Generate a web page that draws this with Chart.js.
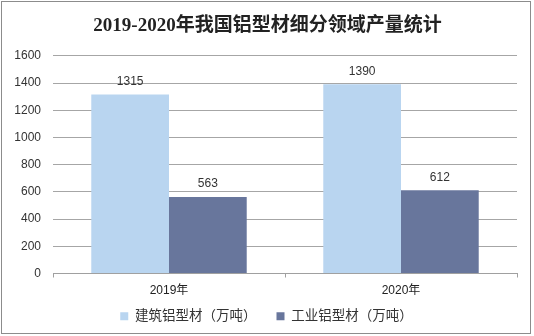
<!DOCTYPE html>
<html>
<head>
<meta charset="utf-8">
<script src="https://cdn.jsdelivr.net/npm/chart.js@4"></script>
<style>
  html, body { margin: 0; padding: 0; background: #fff; }
  #wrap { width: 534px; height: 336px; position: relative; }
</style>
</head>
<body>
<div id="wrap"><canvas id="c"></canvas></div>
<script>
const categories = ['2019年', '2020年'];
const buildingAl = [1315, 1390];
const industrialAl = [563, 612];
const seriesNames = ['建筑铝型材（万吨）', '工业铝型材（万吨）'];

const sansFont = '"Liberation Sans", Arial, "Noto Sans CJK SC", sans-serif';

// value labels above each bar
const barLabels = {
    id: 'barLabels',
    afterDatasetsDraw(chart) {
        const ctx = chart.ctx;
        ctx.save();
        ctx.font = '12px ' + sansFont;
        ctx.fillStyle = '#333';
        ctx.textAlign = 'center';
        ctx.textBaseline = 'bottom';
        chart.data.datasets.forEach((ds, i) => {
            chart.getDatasetMeta(i).data.forEach((bar, j) => {
                ctx.fillText(ds.data[j], bar.x, bar.y - 7);
            });
        });
        ctx.restore();
    }
};

// gray frame round the whole picture
const frame = {
    id: 'frame',
    afterDraw(chart) {
        const ctx = chart.ctx;
        ctx.save();
        ctx.strokeStyle = '#8c8c8c';
        ctx.lineWidth = 1;
        ctx.strokeRect(1.5, 1.5, 529, 332);
        ctx.restore();
    }
};

// x axis is squeezed to sit close to the legend; let its labels spill below.
// title and legend are centred on the whole picture, not on the padded box
const tweakLayout = {
    id: 'tweakLayout',
    afterLayout(chart) {
        chart.scales.x.bottom = chart.scales.x.top + 30;
        chart.legend.left += 8;
        chart.legend.right += 8;
        chart.titleBlock.left += 9;
        chart.titleBlock.right += 9;
    }
};

new Chart(document.getElementById('c'), {
    type: 'bar',
    data: {
        labels: categories,
        datasets: [
            {
                label: seriesNames[0],
                data: buildingAl,
                backgroundColor: '#b9d5f0'
            },
            {
                label: seriesNames[1],
                data: industrialAl,
                backgroundColor: '#68769c'
            }
        ]
    },
    options: {
        responsive: true,
        maintainAspectRatio: false,
        animation: false,
        devicePixelRatio: 1,
        layout: { padding: { left: 0, right: 17, top: 0, bottom: 3 } },
        datasets: { bar: { categoryPercentage: 0.67, barPercentage: 1.0 } },
        plugins: {
            title: {
                display: true,
                text: '2019-2020年我国铝型材细分领域产量统计',
                color: '#222',
                font: { family: '"Liberation Serif", "Noto Sans CJK SC", serif', size: 19, weight: 'bold' },
                padding: { top: 15, bottom: 18 }
            },
            legend: {
                position: 'bottom',
                labels: {
                    boxWidth: 8,
                    boxHeight: 8,
                    padding: 20,
                    color: '#333',
                    font: { family: sansFont, size: 13.5 }
                }
            },
            tooltip: { enabled: false }
        },
        scales: {
            x: {
                afterFit: (scale) => { scale.height = 16; },
                grid: {
                    offset: true,
                    drawOnChartArea: false,
                    drawTicks: true,
                    tickLength: 4,
                    color: '#a0a0a0'
                },
                border: { color: '#a0a0a0' },
                ticks: {
                    color: '#222',
                    padding: 6,
                    font: { family: sansFont, size: 12 }
                }
            },
            y: {
                min: 0,
                max: 1600,
                afterFit: (scale) => { scale.width = 53; },
                grid: { color: '#a6a6a6', drawTicks: false },
                border: { display: false },
                ticks: {
                    stepSize: 200,
                    color: '#333',
                    padding: 12,
                    font: { family: sansFont, size: 12 },
                    callback: (v) => String(v)
                }
            }
        }
    },
    plugins: [barLabels, frame, tweakLayout]
});
</script>
</body>
</html>
